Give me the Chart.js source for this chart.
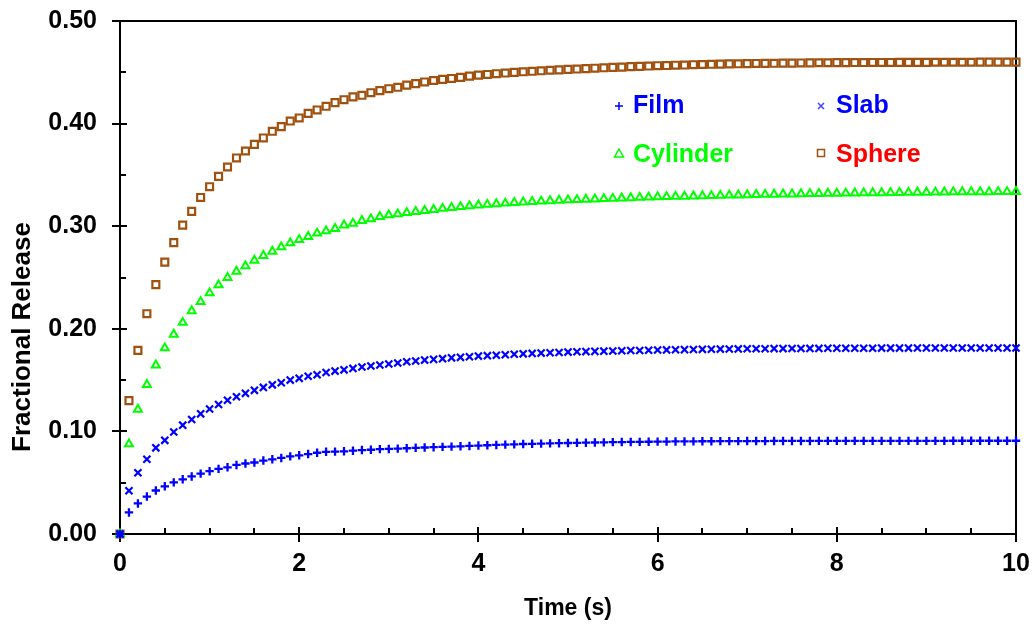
<!DOCTYPE html>
<html><head><meta charset="utf-8">
<script src="https://cdn.jsdelivr.net/npm/chart.js@4.4.1/dist/chart.umd.min.js"></script>
<style>html,body{margin:0;padding:0;background:#fff;}#wrap{width:1034px;height:624px;position:relative;}</style>
</head><body><div id="wrap"><canvas id="c" width="1034" height="624"></canvas></div>
<script>
// ---- data ----
const time = [0,0.1,0.2,0.3,0.4,0.5,0.6,0.7,0.8,0.9,
1.0,1.1,1.2,1.3,1.4,1.5,1.6,1.7,1.8,1.9,
2.0,2.1,2.2,2.3,2.4,2.5,2.6,2.7,2.8,2.9,
3.0,3.1,3.2,3.3,3.4,3.5,3.6,3.7,3.8,3.9,
4.0,4.1,4.2,4.3,4.4,4.5,4.6,4.7,4.8,4.9,
5.0,5.1,5.2,5.3,5.4,5.5,5.6,5.7,5.8,5.9,
6.0,6.1,6.2,6.3,6.4,6.5,6.6,6.7,6.8,6.9,
7.0,7.1,7.2,7.3,7.4,7.5,7.6,7.7,7.8,7.9,
8.0,8.1,8.2,8.3,8.4,8.5,8.6,8.7,8.8,8.9,
9.0,9.1,9.2,9.3,9.4,9.5,9.6,9.7,9.8,9.9,
10.0];

const film = [0,0.0210,0.0298,0.0365,0.0424,0.0465,0.0503,0.0533,0.0561,0.0588,
0.0612,0.0635,0.0650,0.0673,0.0687,0.0697,0.0716,0.0728,0.0741,0.0757,
0.0767,0.0779,0.0792,0.0801,0.0803,0.0806,0.0812,0.0818,0.0821,0.0827,
0.0829,0.0832,0.0836,0.0840,0.0843,0.0846,0.0849,0.0852,0.0855,0.0858,
0.0862,0.0865,0.0868,0.0871,0.0874,0.0877,0.0879,0.0881,0.0883,0.0885,
0.0887,0.0889,0.0890,0.0892,0.0893,0.0895,0.0896,0.0897,0.0898,0.0899,
0.0900,0.0901,0.0902,0.0902,0.0903,0.0904,0.0904,0.0905,0.0905,0.0905,
0.0906,0.0906,0.0906,0.0907,0.0907,0.0907,0.0907,0.0907,0.0908,0.0908,
0.0908,0.0908,0.0908,0.0908,0.0908,0.0908,0.0908,0.0908,0.0908,0.0908,
0.0908,0.0908,0.0908,0.0909,0.0909,0.0909,0.0909,0.0909,0.0909,0.0909,
0.0909];

const slab = [0,0.0421,0.0597,0.0728,0.0840,0.0913,0.0994,0.1061,0.1116,0.1171,
0.1218,0.1262,0.1304,0.1338,0.1371,0.1400,0.1429,0.1454,0.1474,0.1500,
0.1517,0.1538,0.1552,0.1574,0.1588,0.1600,0.1614,0.1628,0.1637,0.1647,
0.1657,0.1667,0.1679,0.1686,0.1695,0.1702,0.1709,0.1717,0.1722,0.1728,
0.1734,0.1738,0.1742,0.1747,0.1752,0.1756,0.1760,0.1763,0.1766,0.1769,
0.1773,0.1776,0.1778,0.1780,0.1782,0.1784,0.1786,0.1788,0.1789,0.1791,
0.1793,0.1794,0.1796,0.1797,0.1798,0.1800,0.1801,0.1802,0.1803,0.1804,
0.1805,0.1805,0.1806,0.1807,0.1807,0.1808,0.1808,0.1809,0.1809,0.1810,
0.1810,0.1810,0.1811,0.1811,0.1811,0.1812,0.1812,0.1812,0.1812,0.1813,
0.1813,0.1813,0.1813,0.1813,0.1813,0.1813,0.1813,0.1813,0.1813,0.1813,
0.1813];

const cylinder = [0,0.0877,0.1215,0.1455,0.1645,0.1813,0.1946,0.2061,0.2175,0.2263,
0.2349,0.2427,0.2498,0.2560,0.2612,0.2667,0.2713,0.2755,0.2797,0.2836,
0.2868,0.2898,0.2931,0.2953,0.2976,0.3010,0.3028,0.3054,0.3070,0.3093,
0.3109,0.3119,0.3131,0.3142,0.3152,0.3162,0.3172,0.3181,0.3189,0.3197,
0.3205,0.3211,0.3217,0.3223,0.3229,0.3234,0.3239,0.3243,0.3247,0.3251,
0.3255,0.3258,0.3261,0.3264,0.3267,0.3270,0.3273,0.3276,0.3279,0.3282,
0.3285,0.3287,0.3289,0.3291,0.3293,0.3295,0.3297,0.3299,0.3301,0.3303,
0.3305,0.3307,0.3309,0.3310,0.3312,0.3313,0.3315,0.3316,0.3317,0.3319,
0.3320,0.3321,0.3322,0.3323,0.3324,0.3325,0.3326,0.3327,0.3328,0.3329,
0.3330,0.3331,0.3332,0.3333,0.3334,0.3334,0.3335,0.3335,0.3336,0.3336,
0.3337];

const sphere = [0,0.1300,0.1790,0.2147,0.2430,0.2650,0.2840,0.3010,0.3145,0.3280,
0.3385,0.3486,0.3577,0.3665,0.3733,0.3798,0.3860,0.3925,0.3970,0.4025,
0.4055,0.4100,0.4133,0.4169,0.4204,0.4233,0.4260,0.4276,0.4301,0.4321,
0.4340,0.4354,0.4375,0.4389,0.4406,0.4420,0.4431,0.4440,0.4451,0.4463,
0.4472,0.4479,0.4486,0.4493,0.4499,0.4505,0.4510,0.4515,0.4520,0.4524,
0.4528,0.4532,0.4536,0.4540,0.4544,0.4548,0.4551,0.4555,0.4558,0.4561,
0.4564,0.4566,0.4569,0.4571,0.4574,0.4576,0.4578,0.4580,0.4582,0.4583,
0.4585,0.4586,0.4587,0.4588,0.4589,0.4590,0.4591,0.4592,0.4593,0.4593,
0.4594,0.4594,0.4595,0.4595,0.4596,0.4596,0.4596,0.4597,0.4597,0.4597,
0.4597,0.4598,0.4598,0.4598,0.4598,0.4598,0.4599,0.4599,0.4599,0.4599,
0.4599];

const seriesNames = ['Film', 'Slab', 'Cylinder', 'Sphere'];
const yMajorTicks = [0, 0.1, 0.2, 0.3, 0.4, 0.5];
const yMinorTicks = [0.05, 0.15, 0.25, 0.35, 0.45];
const xMajorTicks = [0, 2, 4, 6, 8, 10];
const xMinorTicks = [0.5, 1, 1.5, 2.5, 3, 3.5, 4.5, 5, 5.5, 6.5, 7, 7.5, 8.5, 9, 9.5];
const xTitle = 'Time (s)';
const yTitle = 'Fractional Release';

// ---- styling ----
const FONT = "'Liberation Sans', Arial, sans-serif";
const BLUE = '#0000FF', GREEN = '#00FF00', BROWN = '#A0500F', RED = '#FF0000';

function pts(ys) { return time.map((t, i) => ({ x: t, y: ys[i] })); }

const decor = {
  id: 'decor',
  beforeDatasetsDraw(chart) {
    const ctx = chart.ctx, a = chart.chartArea, xs = chart.scales.x, ys = chart.scales.y;
    ctx.save();
    ctx.strokeStyle = '#000';
    ctx.lineWidth = 2;
    ctx.beginPath();
    ctx.moveTo(a.left, a.top); ctx.lineTo(a.right, a.top); ctx.lineTo(a.right, a.bottom);
    ctx.stroke();
    ctx.beginPath();
    yMajorTicks.forEach(v => { const p = Math.round(ys.getPixelForValue(v)); ctx.moveTo(a.left, p); ctx.lineTo(a.left + 7, p); });
    yMinorTicks.forEach(v => { const p = Math.round(ys.getPixelForValue(v)); ctx.moveTo(a.left, p); ctx.lineTo(a.left + 6, p); });
    xMajorTicks.forEach(v => { const p = Math.round(xs.getPixelForValue(v)); ctx.moveTo(p, a.bottom); ctx.lineTo(p, a.bottom - 7); });
    xMinorTicks.forEach(v => { const p = Math.round(xs.getPixelForValue(v)); ctx.moveTo(p, a.bottom); ctx.lineTo(p, a.bottom - 6); });
    ctx.stroke();
    ctx.restore();
  },
  afterDraw(chart) {
    const ctx = chart.ctx;
    ctx.save();
    // y-axis title
    ctx.fillStyle = '#000';
    ctx.font = 'bold 26px ' + FONT;
    ctx.translate(30, 337);
    ctx.rotate(-Math.PI / 2);
    ctx.textAlign = 'center';
    ctx.textBaseline = 'alphabetic';
    ctx.fillText(yTitle, 0, 0);
    ctx.restore();

    // legend
    ctx.save();
    ctx.lineWidth = 1.5;
    ctx.strokeStyle = BLUE;
    ctx.beginPath(); ctx.moveTo(615, 106); ctx.lineTo(623, 106); ctx.moveTo(619, 102); ctx.lineTo(619, 110); ctx.stroke();
    ctx.strokeStyle = '#4040FF';
    ctx.beginPath(); ctx.moveTo(818, 103); ctx.lineTo(824, 109); ctx.moveTo(824, 103); ctx.lineTo(818, 109); ctx.stroke();
    ctx.strokeStyle = GREEN;
    ctx.beginPath(); ctx.moveTo(619, 149); ctx.lineTo(623.5, 157); ctx.lineTo(614.5, 157); ctx.closePath(); ctx.stroke();
    ctx.strokeStyle = BROWN;
    ctx.strokeRect(817.5, 149.5, 7, 7);

    ctx.font = 'bold 25px ' + FONT;
    ctx.textAlign = 'left';
    ctx.textBaseline = 'alphabetic';
    ctx.fillStyle = BLUE;  ctx.fillText(seriesNames[0], 633, 113);
    ctx.fillStyle = BLUE;  ctx.fillText(seriesNames[1], 836, 113);
    ctx.fillStyle = GREEN; ctx.fillText(seriesNames[2], 633, 162);
    ctx.fillStyle = RED;   ctx.fillText(seriesNames[3], 836, 162);
    ctx.restore();
  }
};

const common = { showLine: false, clip: false, pointBackgroundColor: 'rgba(255,255,255,0)', pointHoverRadius: 0 };

new Chart(document.getElementById('c'), {
  type: 'scatter',
  data: {
    datasets: [
      Object.assign({ label: seriesNames[0], data: pts(film), pointStyle: 'cross', pointRadius: 4.2, pointBorderWidth: 2.3, borderColor: BLUE, pointBorderColor: BLUE }, common),
      Object.assign({ label: seriesNames[1], data: pts(slab), pointStyle: 'crossRot', pointRadius: 5, pointBorderWidth: 2.2, borderColor: BLUE, pointBorderColor: BLUE }, common),
      Object.assign({ label: seriesNames[2], data: pts(cylinder), pointStyle: 'triangle', pointRadius: 4.6, pointBorderWidth: 2, borderColor: GREEN, pointBorderColor: GREEN }, common),
      Object.assign({ label: seriesNames[3], data: pts(sphere), pointStyle: 'rect', pointRadius: 4.9, pointBorderWidth: 2.2, borderColor: BROWN, pointBorderColor: BROWN }, common)
    ]
  },
  options: {
    responsive: false,
    devicePixelRatio: 1,
    animation: false,
    events: [],
    layout: { padding: { left: 0, right: 18, top: 21, bottom: 0 } },
    plugins: { legend: { display: false }, tooltip: { enabled: false }, title: { display: false } },
    scales: {
      x: {
        type: 'linear', min: 0, max: 10,
        afterFit(s) { s.height = 90; s.paddingLeft = 0; s.paddingRight = 0; },
        afterBuildTicks(s) { s.ticks = xMajorTicks.map(v => ({ value: v })); },
        ticks: { color: '#000', padding: 7, font: { family: FONT, size: 25, weight: 'bold' }, callback: v => String(v), maxRotation: 0 },
        grid: { display: true, drawOnChartArea: false, drawTicks: true, tickLength: 8, color: '#000', lineWidth: 2 },
        border: { display: true, color: '#000', width: 2 },
        title: { display: true, text: xTitle, color: '#000', font: { family: FONT, size: 23, weight: 'bold' }, padding: { top: 0, bottom: 2 } }
      },
      y: {
        type: 'linear', min: 0, max: 0.5,
        afterFit(s) { s.width = 120; s.paddingTop = 0; s.paddingBottom = 0; },
        afterBuildTicks(s) { s.ticks = yMajorTicks.map(v => ({ value: v })); },
        ticks: { color: '#000', padding: 15, font: { family: FONT, size: 25, weight: 'bold' }, callback: v => v.toFixed(2) },
        grid: { display: true, drawOnChartArea: false, drawTicks: true, tickLength: 8, color: '#000', lineWidth: 2 },
        border: { display: true, color: '#000', width: 2 }
      }
    }
  },
  plugins: [decor]
});
</script>
</body></html>
